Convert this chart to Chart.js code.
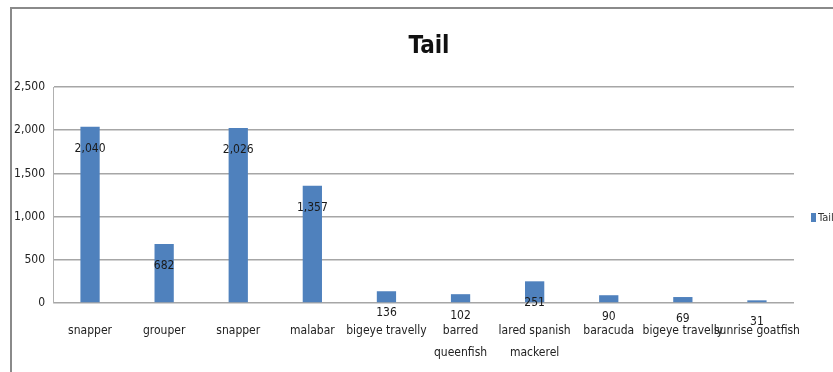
<!DOCTYPE html>
<html>
<head>
<meta charset="utf-8">
<script src="https://cdn.jsdelivr.net/npm/chart.js@4/dist/chart.umd.min.js"></script>
<style>
  html, body { margin: 0; padding: 0; background: #fff; }
  #frame {
    position: absolute; left: 10px; top: 7px; width: 830px; height: 370px;
    border-left: 2px solid #8a8a8a; border-top: 2px solid #8a8a8a;
  }
  #wrap { position: absolute; left: 0; top: 0; width: 833px; height: 372px; }
</style>
</head>
<body>
<div id="frame"></div>
<div id="wrap"><canvas id="tailChart"></canvas></div>
<script>
const fishNames = [
  'snapper', 'grouper', 'snapper', 'malabar', 'bigeye travelly',
  ['barred', 'queenfish'], ['lared spanish', 'mackerel'], 'baracuda',
  'bigeye travelly', 'sunrise goatfish'
];
const tailCounts = [2040, 682, 2026, 1357, 136, 102, 251, 90, 69, 31];
const yTicks = [0, 500, 1000, 1500, 2000, 2500];
const seriesName = 'Tail';

const narrow = "'Liberation Sans Narrow', 'DejaVu Sans Condensed', sans-serif";
const barBlue = '#4f81bd';

// title over the whole frame, value labels just inside each bar top, small legend on the right
const extras = {
  id: 'extras',
  afterDatasetsDraw(chart) {
    const ctx = chart.ctx;
    const meta = chart.getDatasetMeta(0);
    ctx.save();
    ctx.fillStyle = '#111';
    ctx.textAlign = 'center';
    ctx.textBaseline = 'middle';
    ctx.font = 'bold 24px ' + narrow;
    ctx.fillText(seriesName, 429, 47);

    ctx.font = '12px ' + narrow;
    ctx.fillStyle = '#1a1a1a';
    meta.data.forEach((bar, i) => {
      ctx.fillText(tailCounts[i].toLocaleString('en-US'), bar.x, bar.y + 22);
    });

    const area = chart.chartArea;
    const midY = (area.top + area.bottom) / 2;
    ctx.fillStyle = barBlue;
    ctx.fillRect(811, midY + 18, 5, 9);
    ctx.fillStyle = '#333';
    ctx.textAlign = 'left';
    ctx.font = '11px ' + narrow;
    ctx.fillText(seriesName, 818, midY + 23);
    ctx.restore();
  }
};

new Chart(document.getElementById('tailChart'), {
  type: 'bar',
  data: {
    labels: fishNames,
    datasets: [{
      label: seriesName,
      data: tailCounts,
      backgroundColor: barBlue,
      borderWidth: 0,
      categoryPercentage: 1,
      barPercentage: 0.26
    }]
  },
  options: {
    responsive: true,
    maintainAspectRatio: false,
    animation: false,
    layout: { padding: { left: 0, right: 39, top: 87, bottom: 0 } },
    plugins: {
      legend: { display: false },
      tooltip: { enabled: false },
      title: { display: false }
    },
    scales: {
      x: {
        grid: { display: false, drawTicks: false },
        border: { display: false },
        ticks: {
          color: '#222',
          font: { family: narrow, size: 12, lineHeight: 1.9 },
          padding: 16,
          maxRotation: 0,
          autoSkip: false
        },
        afterFit(scale) { scale.height = 69; }
      },
      y: {
        min: 0,
        max: 2500,
        afterBuildTicks(scale) { scale.ticks = yTicks.map(v => ({ value: v })); },
        grid: { color: '#a6a6a6', lineWidth: 1.5, drawTicks: false },
        border: { display: true, color: '#b0b0b0', width: 1 },
        ticks: {
          color: '#222',
          font: { family: narrow, size: 12 },
          padding: 8,
          callback: v => v.toLocaleString('en-US')
        },
        afterFit(scale) { scale.width = 53; }
      }
    }
  },
  plugins: [extras]
});
</script>
</body>
</html>
